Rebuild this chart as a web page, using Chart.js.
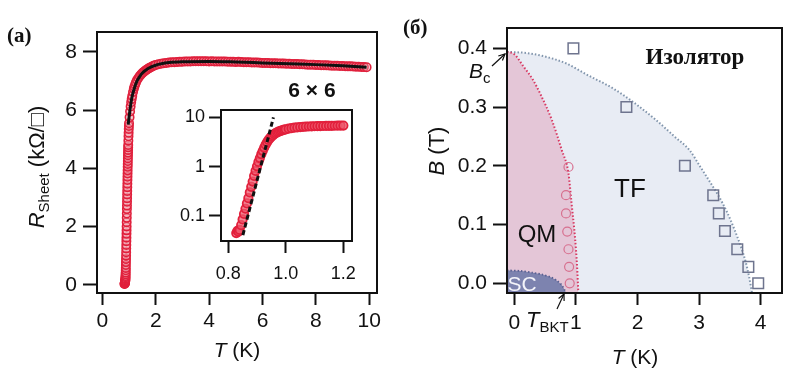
<!DOCTYPE html>
<html><head><meta charset="utf-8">
<script src="https://cdn.jsdelivr.net/npm/chart.js@4.4.1/dist/chart.umd.min.js"></script>
<style>
html,body{margin:0;padding:0;background:#fff;}
#wrap{position:relative;width:800px;height:380px;overflow:hidden;background:#fff;}
canvas{position:absolute;left:0;top:0;}
</style></head><body>
<div id="wrap">
<canvas id="cA" width="800" height="380"></canvas>
<canvas id="cI" width="800" height="380"></canvas>
<canvas id="cB" width="800" height="380"></canvas>
</div>
<script>
// ---------- Panel (a): R_sheet vs T ----------
const tA = [0.83,0.835,0.84,0.845,0.85,0.8525,0.855,0.8575,0.86,0.8625,0.865,0.8675,0.87,0.8725,0.875,0.8775,0.88,0.8825,0.885,0.8875,0.89,0.8925,0.895,0.8975,0.9,0.9025,0.905,0.9075,0.91,0.9125,0.915,0.9175,0.92,0.9225,0.925,0.9275,0.93,0.9325,0.935,0.9375,0.94,0.9425,0.945,0.9475,0.95,0.9525,0.955,0.9575,0.96,0.9625,0.965,0.9675,0.97,0.975,0.98,0.985,0.99,0.995,
  1.0,1.02,1.04,1.06,1.08,1.1,1.12,1.15,1.18,1.2,1.23,1.26,1.3,1.35,1.4,1.45,1.5,1.55,1.6,1.65,1.7,1.75,1.8,1.85,1.9,1.95,
  2.0,2.1,2.2,2.3,2.4,2.5,2.6,2.7,2.8,2.9,3.0,3.1,3.2,3.3,3.4,3.5,3.6,3.7,3.8,3.9,4.0,4.1,4.2,4.3,4.4,4.5,4.6,4.7,4.8,4.9,5.0,5.1,5.2,5.3,5.4,5.5,5.6,5.7,5.8,5.9,6.0,6.1,6.2,6.3,6.4,6.5,6.6,6.7,6.8,6.9,7.0,7.1,7.2,7.3,7.4,7.5,7.6,7.7,7.8,7.9,8.0,8.1,8.2,8.3,8.4,8.5,8.6,8.7,8.8,8.9,9.0,9.1,9.2,9.3,9.4,9.5,9.6,9.7,9.8,9.9];
const rA = [0.03,0.04,0.05,0.07,0.09,0.11,0.12,0.14,0.16,0.19,0.22,0.26,0.3,0.36,0.42,0.5,0.58,0.68,0.78,0.89,1.0,1.12,1.25,1.37,1.5,1.62,1.75,1.87,2.0,2.15,2.3,2.45,2.6,2.72,2.85,2.97,3.1,3.22,3.35,3.47,3.6,3.71,3.82,3.93,4.05,4.15,4.25,4.35,4.45,4.54,4.63,4.72,4.8,4.95,5.1,5.22,5.35,5.45,
  5.55,5.75,5.95,6.12,6.27,6.38,6.48,6.62,6.73,6.8,6.88,6.95,7.03,7.1,7.17,7.22,7.27,7.31,7.35,7.38,7.41,7.44,7.46,7.49,7.51,7.53,
  7.55,7.57,7.59,7.61,7.62,7.63,7.64,7.645,7.65,7.655,7.66,7.665,7.67,7.67,7.675,7.68,7.675,7.68,7.68,7.675,7.67,7.675,7.67,7.67,7.665,7.67,7.665,7.66,7.66,7.655,7.65,7.655,7.65,7.645,7.64,7.64,7.635,7.63,7.63,7.625,7.62,7.62,7.615,7.61,7.61,7.605,7.6,7.6,7.595,7.59,7.59,7.585,7.58,7.58,7.575,7.57,7.565,7.56,7.56,7.555,7.55,7.545,7.54,7.54,7.535,7.53,7.525,7.52,7.52,7.515,7.51,7.505,7.5,7.5,7.495,7.49,7.485,7.48,7.475,7.47];
const fitT = [0.97,1.0,1.05,1.1,1.2,1.3,1.4,1.5,1.7,2.0,2.5,3.0,4.0,5.0,6.0,7.0,8.0,9.0,9.9];
const fitR = [5.5,5.75,6.1,6.4,6.75,7.0,7.15,7.27,7.42,7.54,7.63,7.66,7.67,7.65,7.62,7.59,7.56,7.52,7.47];
const ticksAx = [0,2,4,6,8,10];
const ticksAy = [0,2,4,6,8];

// ---------- Inset: log R vs T ----------
const insT = [0.828,0.832,0.836,0.84,0.845,0.85,0.855,0.86,0.865,0.87,0.875,0.88,0.885,0.89,0.895,0.9,0.905,0.91,0.915,0.92,0.925,0.93,0.935,0.94,0.945,0.95,0.955,0.96,0.965,0.97,0.975,0.98,0.985,0.99,0.995,1.0,1.01,1.02,1.03,1.04,1.05,1.06,1.07,1.08,1.09,1.1,1.11,1.12,1.13,1.14,1.15,1.16,1.17,1.18,1.19,1.2];
const insR = [0.045,0.05,0.048,0.052,0.065,0.085,0.11,0.14,0.18,0.23,0.3,0.39,0.5,0.65,0.82,1.02,1.25,1.5,1.8,2.1,2.45,2.8,3.15,3.5,3.8,4.1,4.35,4.6,4.8,5.0,5.15,5.3,5.42,5.55,5.65,5.75,5.92,6.07,6.2,6.3,6.38,6.45,6.51,6.56,6.6,6.64,6.67,6.7,6.72,6.74,6.76,6.78,6.8,6.82,6.84,6.86];
const insLineT = [0.851,0.957];
const insLineR = [0.041,10];
const ticksIx = [0.8,1.0,1.2];
const labelsIx = ['0.8','1.0','1.2'];
const ticksIy = [0.1,1,10];
const labelsIy = ['0.1','1','10'];

// ---------- Panel (б): phase diagram B vs T ----------
const outerT = [-0.118,0.2,0.5,0.85,1.2,1.6,1.95,2.3,2.6,2.85,3.01,3.18,3.31,3.45,3.58,3.68,3.76,3.81,3.86];
const outerB = [0.394,0.392,0.386,0.374,0.354,0.332,0.307,0.278,0.25,0.226,0.2,0.172,0.15,0.122,0.09,0.062,0.035,0.012,-0.0165];
const innerT = [-0.118,0.0,0.15,0.3,0.42,0.61,0.77,0.88,0.93,0.985,1.02,1.04];
const innerB = [0.394,0.39,0.369,0.347,0.323,0.278,0.227,0.187,0.136,0.079,0.028,-0.0165];
const scT = [-0.118,0.1,0.3,0.45,0.6,0.7,0.77,0.82,0.84];
const scB = [0.022,0.021,0.018,0.015,0.010,0.004,-0.003,-0.012,-0.0165];
const qmT = [0.88,0.84,0.84,0.86,0.88,0.89,0.90];
const qmB = [0.198,0.15,0.119,0.088,0.058,0.028,0.0];
const tfT = [0.96,1.82,2.77,3.23,3.32,3.42,3.62,3.80,3.96];
const tfB = [0.4,0.3,0.2,0.15,0.119,0.089,0.058,0.028,0.0];
const ticksBx = [0,1,2,3,4];
const ticksBy = [0,0.1,0.2,0.3,0.4];
const labelsBy = ['0.0','0.1','0.2','0.3','0.4'];

const pts = (xs, ys) => xs.map((x, i) => ({x: x, y: ys[i]}));
const SANS = 'Liberation Sans, Arial, sans-serif';
const SERIF = 'Liberation Serif, Times New Roman, serif';

function axis(o) {
  return {
    type: o.type || 'linear', min: o.min, max: o.max,
    afterFit: s => { if (o.w !== undefined) s.width = o.w; if (o.h !== undefined) s.height = o.h; },
    afterBuildTicks: s => { s.ticks = o.ticks.map(v => ({value: v})); },
    ticks: {
      autoSkip: false, maxRotation: 0, minRotation: 0, color: '#111', padding: o.pad,
      font: {family: SANS, size: o.fs},
      callback: (v, i) => o.labels ? o.labels[i] : String(o.ticks[i])
    },
    grid: {display: true, drawOnChartArea: false, drawTicks: true, tickLength: o.tl, tickWidth: 2, tickColor: '#111', color: '#111'},
    border: {display: false},
    title: {display: false}
  };
}

function rich(ctx, parts, x, y, align, rot) {
  ctx.save();
  ctx.translate(x, y);
  if (rot) ctx.rotate(rot);
  ctx.textBaseline = 'alphabetic';
  ctx.textAlign = 'left';
  let w = 0;
  parts.forEach(p => { ctx.font = p.f; p.w = ctx.measureText(p.t).width; w += p.w; });
  let cx = align === 'center' ? -w / 2 : (align === 'right' ? -w : 0);
  parts.forEach(p => { ctx.font = p.f; ctx.fillStyle = p.c || '#111'; ctx.fillText(p.t, cx, p.dy || 0); cx += p.w; });
  ctx.restore();
}
function arrow(ctx, x1, y1, x2, y2) {
  ctx.save();
  ctx.strokeStyle = '#111'; ctx.lineWidth = 1.2;
  ctx.beginPath(); ctx.moveTo(x1, y1); ctx.lineTo(x2, y2); ctx.stroke();
  const a = Math.atan2(y2 - y1, x2 - x1), L = 7;
  ctx.beginPath();
  ctx.moveTo(x2 - L * Math.cos(a - 0.45), y2 - L * Math.sin(a - 0.45));
  ctx.lineTo(x2, y2);
  ctx.lineTo(x2 - L * Math.cos(a + 0.45), y2 - L * Math.sin(a + 0.45));
  ctx.stroke();
  ctx.restore();
}
const boxPlugin = {
  id: 'box',
  beforeDatasetsDraw(chart, args, opts) {
    if (opts.bg) { const a = chart.chartArea; chart.ctx.save(); chart.ctx.fillStyle = opts.bg; chart.ctx.fillRect(a.left, a.top, a.right - a.left, a.bottom - a.top); chart.ctx.restore(); }
  },
  afterDraw(chart, args, opts) {
    const a = chart.chartArea, ctx = chart.ctx;
    ctx.save(); ctx.strokeStyle = '#111'; ctx.lineWidth = 2;
    ctx.strokeRect(a.left, a.top, a.right - a.left, a.bottom - a.top);
    ctx.restore();
    if (opts.text) opts.text(ctx);
  }
};
const common = {
  responsive: false, maintainAspectRatio: false, animation: false,
  plugins: {legend: {display: false}, tooltip: {enabled: false}}
};

// Main chart (a)
new Chart(document.getElementById('cA'), {
  type: 'scatter',
  data: {datasets: [
    {data: pts(fitT, fitR), showLine: true, borderColor: '#111', borderWidth: 3, pointRadius: 0, cubicInterpolationMode: 'monotone', order: 0},
    {data: pts(tA, rA), showLine: false, pointRadius: 4.2, borderWidth: 1.6, pointBorderColor: '#e0203c', pointBackgroundColor: 'rgba(240,150,165,0.45)', order: 1}
  ]},
  options: Object.assign({}, common, {
    layout: {padding: {left: 0, top: 32, right: 423, bottom: 0}},
    scales: {
      x: axis({min: -0.2, max: 10.29, ticks: ticksAx, h: 87, fs: 21, pad: 4, tl: 12}),
      y: axis({min: -0.28, max: 8.68, ticks: ticksAy, w: 97, fs: 21, pad: 6, tl: 14})
    },
    plugins: Object.assign({}, common.plugins, {box: {text: ctx => {
      rich(ctx, [{t: '(a)', f: 'bold 21px ' + SERIF}], 7, 42, 'left');
      rich(ctx, [{t: '6 × 6', f: 'bold 21px ' + SANS}], 312, 97, 'center');
      rich(ctx, [{t: 'T', f: 'italic 21px ' + SANS}, {t: ' (K)', f: '21px ' + SANS}], 237, 357, 'center');
      rich(ctx, [{t: 'R', f: 'italic 22px ' + SANS}, {t: 'Sheet', f: '15px ' + SANS, dy: 5}, {t: ' (kΩ/□)', f: '22px ' + SANS}], 44, 167, 'center', -Math.PI / 2);
    }}})
  }),
  plugins: [boxPlugin]
});

// Inset
new Chart(document.getElementById('cI'), {
  type: 'scatter',
  data: {datasets: [
    {data: pts(insLineT, insLineR), showLine: true, borderColor: '#111', borderWidth: 3, borderDash: [5, 3], pointRadius: 0, order: 0},
    {data: pts(insT, insR), showLine: false, pointRadius: 4.2, borderWidth: 1.8, pointBorderColor: '#e2203c', pointBackgroundColor: 'rgba(238,90,110,0.75)', order: 1}
  ]},
  options: Object.assign({}, common, {
    layout: {padding: {left: 0, top: 110, right: 448, bottom: 0}},
    scales: {
      x: axis({min: 0.775, max: 1.23, ticks: ticksIx, labels: labelsIx, h: 139, fs: 18, pad: 10, tl: 12}),
      y: axis({type: 'logarithmic', min: 0.031, max: 14.2, ticks: ticksIy, labels: labelsIy, w: 221, fs: 18, pad: 4, tl: 12})
    },
    plugins: Object.assign({}, common.plugins, {box: {bg: '#fff'}})
  }),
  plugins: [boxPlugin]
});

// Panel (б)
new Chart(document.getElementById('cB'), {
  type: 'scatter',
  data: {datasets: [
    {data: pts(tfT, tfB), showLine: false, pointStyle: 'rect', pointRadius: 7.5, borderWidth: 1.5, pointBorderColor: '#6e748e', pointBackgroundColor: 'rgba(0,0,0,0)', order: 0},
    {data: pts(qmT, qmB), showLine: false, pointStyle: 'circle', pointRadius: 4.5, borderWidth: 1.2, pointBorderColor: '#d7708f', pointBackgroundColor: 'rgba(0,0,0,0)', order: 1},
    {data: pts(scT, scB), showLine: true, fill: 'start', backgroundColor: '#7d83af', borderColor: '#5b6192', borderWidth: 1.8, borderDash: [1.5, 2], pointRadius: 0, tension: 0.3, order: 2},
    {data: pts(innerT, innerB), showLine: true, fill: 'start', backgroundColor: '#e4c6d7', borderColor: '#d83a62', borderWidth: 2, borderDash: [1.5, 2], pointRadius: 0, cubicInterpolationMode: 'monotone', order: 3},
    {data: pts(outerT, outerB), showLine: true, fill: 'start', backgroundColor: '#e8ecf4', borderColor: '#8195ac', borderWidth: 2, borderDash: [1.5, 2], pointRadius: 0, cubicInterpolationMode: 'monotone', order: 4}
  ]},
  options: Object.assign({}, common, {
    layout: {padding: {left: 0, top: 28, right: 18, bottom: 0}},
    scales: {
      x: axis({min: -0.118, max: 4.346, ticks: ticksBx, h: 87, fs: 21, pad: 6, tl: 12}),
      y: axis({min: -0.0165, max: 0.4346, ticks: ticksBy, labels: labelsBy, w: 507, fs: 21, pad: 6, tl: 14})
    },
    plugins: Object.assign({}, common.plugins, {box: {text: ctx => {
      rich(ctx, [{t: '(б)', f: 'bold 21px ' + SERIF}], 403, 34, 'left');
      rich(ctx, [{t: 'Изолятор', f: 'bold 23px ' + SERIF}], 695, 64, 'center');
      rich(ctx, [{t: 'TF', f: '26px ' + SANS}], 630, 197, 'center');
      rich(ctx, [{t: 'QM', f: '24px ' + SANS}], 537, 242, 'center');
      rich(ctx, [{t: 'SC', f: '21px ' + SANS, c: '#f4f4fa'}], 522, 291, 'center');
      rich(ctx, [{t: 'B', f: 'italic 21px ' + SANS}, {t: 'c', f: '15px ' + SANS, dy: 5}], 469, 78, 'left');
      arrow(ctx, 492, 66, 505, 54);
      rich(ctx, [{t: 'T', f: 'italic 22px ' + SANS}, {t: 'BKT', f: '15px ' + SANS, dy: 5}], 526, 327, 'left');
      arrow(ctx, 557, 309, 564, 294);
      rich(ctx, [{t: 'T', f: 'italic 21px ' + SANS}, {t: ' (K)', f: '21px ' + SANS}], 635, 364, 'center');
      rich(ctx, [{t: 'B', f: 'italic 22px ' + SANS}, {t: ' (T)', f: '22px ' + SANS}], 444, 151, 'center', -Math.PI / 2);
    }}})
  }),
  plugins: [boxPlugin]
});
</script>
</body></html>
